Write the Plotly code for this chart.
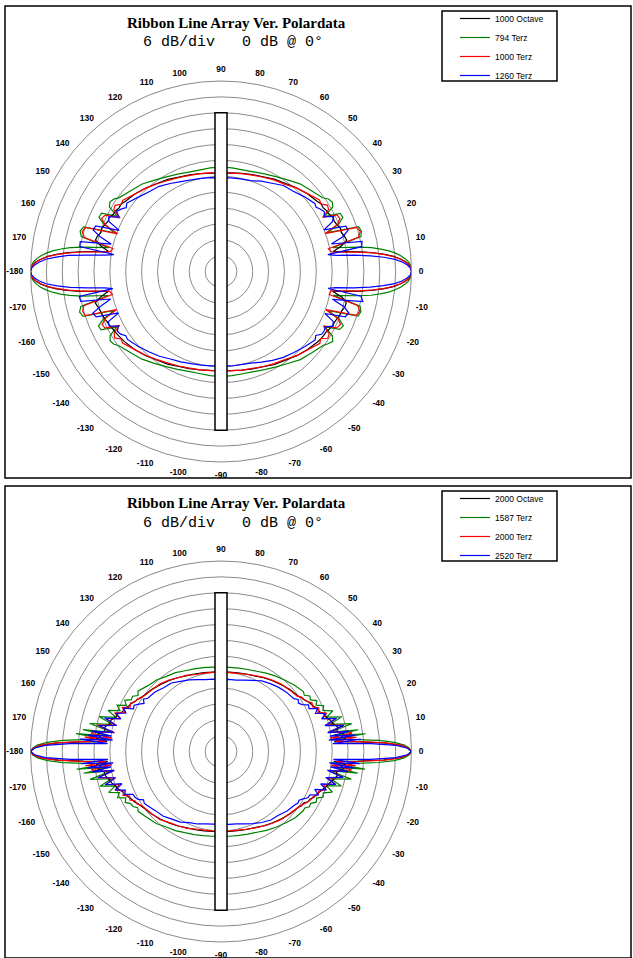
import plotly.graph_objects as go

W, H = 633, 958

# ---------------- data ----------------
# angles (deg) for the upper half; lower half uses the negative angles
THETA = [0, 1, 2, 3, 4, 5, 6, 7, 8, 9, 10,
         12, 14, 16, 18, 20, 22, 24, 26, 28, 30, 32, 34, 36,
         42, 48, 54, 60, 66, 72, 78, 84, 90,
         96, 102, 108, 114, 120, 126, 132, 138,
         144, 146, 148, 150, 152, 154, 156, 158, 160, 162, 164, 166, 168,
         170, 171, 172, 173, 174, 175, 176, 177, 178, 179, 180]

ANGLE_TICKS = list(range(0, 360, 10))
ANGLE_TEXT = [str(a) if a < 180 else str(a - 360) for a in ANGLE_TICKS]

TITLE = "Ribbon Line Array Ver. Polardata"
SUBTITLE = "6 dB/div   0 dB @ 0°"

# ---- panel 1 (1000 Hz) ----
p1_names = ["1000 Octave", "794 Terz", "1000 Terz", "1260 Terz"]

p1_oct_up = [0, -0.2, -0.8, -2.1, -4.0, -6.5, -9.8, -13.8, -18.5, -24.0, -29.0,
             -25.5, -23.0, -23.5, -24.2, -24.0, -24.8, -25.2, -24.9, -25.8, -26.0, -26.5, -26.3, -27.0,
             -28.1, -29.4, -30.8, -31.7, -32.8, -33.5, -34.1, -34.5, -34.8,
             -34.6, -34.2, -33.6, -32.9, -31.8, -30.9, -29.5, -28.2,
             -27.1, -26.4, -26.6, -26.1, -25.9, -25.0, -25.3, -24.7, -24.1, -24.3, -23.4, -23.1, -25.6,
             -29.0, -24.0, -18.4, -13.6, -9.6, -6.3, -3.9, -2.0, -0.8, -0.2, 0]
p1_oct_dn = [0, -0.2, -0.8, -2.1, -4.1, -6.6, -9.9, -14.0, -18.7, -24.2, -29.2,
             -25.2, -23.2, -23.3, -24.0, -24.2, -24.6, -25.0, -25.1, -25.6, -26.2, -26.3, -26.5, -26.8,
             -27.9, -29.2, -30.6, -31.5, -32.6, -33.3, -33.9, -34.3, -34.5,
             -34.4, -34.0, -33.4, -32.7, -31.6, -30.7, -29.3, -28.0,
             -26.9, -26.6, -26.3, -26.0, -25.7, -25.2, -25.0, -24.5, -24.3, -24.0, -23.6, -23.0, -25.4,
             -28.8, -23.8, -18.2, -13.4, -9.4, -6.2, -3.8, -2.0, -0.8, -0.2, 0]

p1_lo_up = [0, -0.1, -0.4, -1.1, -2.3, -3.8, -5.7, -8.0, -11.0, -14.4, -18.9,
            -28.8, -17.5, -16.8, -17.3, -29.0, -24.0, -21.6, -21.9, -27.8, -23.2, -22.4, -23.0, -24.6,
            -26.2, -27.4, -29.2, -30.6, -31.6, -32.4, -32.7, -32.6, -32.5,
            -32.6, -32.8, -32.5, -31.7, -30.7, -29.3, -27.5, -26.3,
            -24.5, -23.1, -22.5, -23.3, -27.6, -21.8, -21.5, -24.2, -29.2, -17.4, -16.6, -17.6, -28.6,
            -18.8, -14.3, -10.9, -7.9, -5.6, -3.7, -2.2, -1.1, -0.4, -0.1, 0]
p1_lo_dn = [0, -0.1, -0.4, -1.1, -2.3, -3.9, -5.8, -8.2, -11.2, -14.6, -19.2,
            -28.6, -17.8, -17.0, -17.5, -28.8, -23.8, -21.4, -22.1, -27.5, -23.4, -22.2, -23.2, -24.4,
            -26.0, -27.2, -29.0, -30.4, -31.4, -32.2, -32.5, -32.4, -32.3,
            -32.4, -32.6, -32.3, -31.5, -30.5, -29.1, -27.4, -26.1,
            -24.3, -23.0, -22.6, -23.6, -27.4, -21.6, -21.3, -24.0, -29.0, -17.2, -16.4, -17.4, -28.4,
            -18.6, -14.1, -10.7, -7.8, -5.5, -3.6, -2.2, -1.1, -0.4, -0.1, 0]

p1_mid_up = [0, -0.2, -0.9, -2.3, -4.2, -6.8, -10.2, -14.4, -19.3, -25.0, -29.6,
             -30.5, -18.5, -17.2, -18.0, -30.2, -24.5, -22.8, -23.2, -28.5, -25.0, -24.6, -26.4, -26.0,
             -28.0, -29.5, -31.2, -32.0, -33.0, -33.7, -34.2, -34.6, -34.7,
             -34.5, -34.2, -33.8, -33.1, -32.2, -31.0, -29.6, -28.2,
             -26.2, -26.6, -24.8, -25.2, -28.8, -23.4, -22.6, -24.8, -30.4, -18.2, -17.4, -18.8, -30.2,
             -29.4, -24.8, -19.0, -14.2, -10.0, -6.6, -4.0, -2.2, -0.8, -0.2, 0]
p1_mid_dn = [0, -0.2, -0.9, -2.3, -4.3, -6.9, -10.3, -14.6, -19.5, -25.2, -29.8,
             -30.2, -18.8, -17.4, -18.3, -29.8, -24.2, -22.6, -23.4, -28.2, -24.8, -24.4, -26.6, -25.8,
             -27.8, -29.2, -30.9, -31.8, -32.7, -33.5, -33.9, -34.3, -34.4,
             -34.3, -34.0, -33.6, -32.9, -32.0, -30.8, -29.4, -28.0,
             -26.0, -26.4, -24.6, -25.4, -28.6, -23.2, -22.8, -25.0, -30.0, -18.0, -17.6, -18.6, -30.0,
             -29.2, -24.6, -18.8, -14.0, -9.8, -6.5, -3.9, -2.1, -0.8, -0.2, 0]

p1_hi_up = [0, -0.4, -1.5, -3.4, -6.1, -10.2, -15.2, -21.2, -28.0, -31.1, -18.0,
            -17.5, -29.0, -24.0, -21.5, -21.8, -30.0, -26.0, -24.6, -27.8, -26.9, -27.6, -28.6, -28.2,
            -29.7, -31.2, -31.8, -33.5, -34.6, -35.9, -36.2, -36.4, -36.6,
            -36.3, -36.0, -35.6, -34.8, -33.6, -32.2, -31.4, -30.0,
            -28.0, -28.8, -27.5, -26.5, -28.2, -24.8, -25.6, -30.5, -21.6, -21.2, -24.5, -29.2, -17.6,
            -17.8, -31.0, -27.8, -21.0, -14.0, -9.4, -5.6, -3.3, -1.5, -0.4, 0]
p1_hi_dn = [0, -0.4, -1.6, -3.5, -6.2, -10.4, -15.4, -21.4, -28.2, -31.0, -18.2,
            -17.2, -28.6, -23.6, -21.2, -22.0, -29.6, -25.6, -24.9, -27.4, -27.0, -27.2, -28.8, -28.0,
            -29.5, -30.8, -31.9, -33.2, -34.5, -35.6, -36.0, -36.1, -36.3,
            -36.1, -35.8, -35.4, -34.6, -33.8, -32.4, -31.2, -29.8,
            -28.3, -28.6, -27.3, -26.8, -28.0, -25.0, -25.4, -30.2, -21.8, -21.0, -24.8, -29.0, -17.8,
            -17.6, -30.6, -27.6, -21.2, -14.6, -9.8, -5.8, -3.2, -1.5, -0.4, 0]

# ---- panel 2 (2000 Hz) ----
p2_names = ["2000 Octave", "1587 Terz", "2000 Terz", "2520 Terz"]

p2_oct_up = [0, -1.2, -4.0, -10.4, -20.0, -29.0, -24.5, -26.0, -25.0, -26.5, -27.5,
             -27.0, -28.4, -29.0, -30.2, -30.6, -31.8, -32.2, -33.0, -33.6, -34.2, -35.0, -35.5, -36.2,
             -37.0, -38.0, -38.9, -39.8, -40.7, -41.2, -41.6, -41.8, -41.9,
             -41.8, -41.5, -41.1, -40.6, -39.7, -38.8, -37.9, -36.9,
             -36.0, -35.6, -34.8, -34.3, -33.5, -33.1, -32.0, -31.9, -30.4, -30.3, -28.8, -28.6, -27.2,
             -27.4, -26.2, -25.2, -26.0, -24.4, -28.8, -19.8, -10.2, -3.9, -1.2, 0]
p2_oct_dn = [0, -1.2, -4.1, -10.6, -20.2, -29.2, -24.6, -26.2, -25.2, -26.6, -27.6,
             -27.2, -28.2, -29.2, -30.0, -30.8, -31.6, -32.4, -32.8, -33.8, -34.0, -35.2, -35.3, -36.0,
             -36.8, -37.8, -38.7, -39.6, -40.5, -41.0, -41.4, -41.6, -41.7,
             -41.6, -41.3, -40.9, -40.4, -39.5, -38.6, -37.7, -36.7,
             -35.8, -35.4, -34.9, -34.1, -33.7, -32.9, -32.2, -31.7, -30.6, -30.1, -29.0, -28.4, -27.4,
             -27.2, -26.4, -25.0, -26.2, -24.6, -29.0, -20.0, -10.4, -4.0, -1.2, 0]

p2_lo_up = [0, -0.8, -2.6, -6.4, -12.1, -20.5, -29.6, -17.0, -29.0, -19.5, -30.0,
            -21.5, -29.5, -24.5, -30.0, -27.0, -30.5, -29.5, -32.0, -31.0, -33.0, -32.4, -34.0, -33.5,
            -34.6, -35.8, -36.8, -37.8, -38.8, -39.4, -39.8, -40.0, -40.1,
            -39.9, -39.6, -39.2, -38.6, -37.6, -36.9, -35.6, -34.8,
            -33.2, -34.2, -32.6, -32.8, -30.8, -32.2, -29.0, -30.8, -26.6, -30.2, -24.2, -29.6, -21.2,
            -30.2, -19.2, -29.2, -16.8, -29.4, -20.2, -12.0, -6.3, -2.5, -0.8, 0]
p2_lo_dn = [0, -0.8, -2.7, -6.5, -12.3, -20.7, -29.8, -17.2, -29.2, -19.7, -30.2,
            -21.7, -29.3, -24.7, -30.2, -27.2, -30.3, -29.7, -31.8, -31.2, -32.8, -32.6, -33.8, -33.7,
            -34.4, -35.6, -36.6, -37.6, -38.6, -39.2, -39.6, -39.8, -39.9,
            -39.8, -39.5, -39.0, -38.4, -37.5, -36.7, -35.4, -34.6,
            -33.4, -34.0, -32.8, -32.6, -31.0, -32.0, -29.2, -30.6, -26.8, -30.0, -24.4, -29.4, -21.4,
            -30.0, -19.4, -29.0, -17.0, -29.6, -20.4, -12.2, -6.4, -2.6, -0.8, 0]

p2_mid_up = [0, -1.1, -3.8, -9.8, -18.9, -28.4, -20.5, -30.5, -22.0, -23.5, -31.0,
             -24.5, -30.5, -27.0, -31.5, -29.5, -32.5, -31.5, -33.5, -33.0, -34.2, -35.0, -35.2, -36.4,
             -37.2, -37.8, -38.8, -39.6, -40.6, -41.3, -41.8, -42.0, -42.1,
             -41.9, -41.7, -41.4, -40.4, -39.8, -38.6, -37.6, -37.0,
             -36.2, -35.4, -34.8, -34.4, -33.2, -33.8, -31.2, -32.8, -29.2, -31.8, -26.8, -30.6, -24.2,
             -31.2, -23.2, -22.4, -30.6, -20.2, -28.2, -18.6, -9.6, -3.7, -1.1, 0]
p2_mid_dn = [0, -1.1, -3.9, -9.9, -19.1, -28.6, -20.8, -30.2, -22.2, -23.8, -30.8,
             -24.8, -30.2, -27.2, -31.2, -29.8, -32.2, -31.8, -33.2, -33.4, -34.0, -34.8, -35.6, -36.0,
             -37.0, -37.6, -38.6, -39.5, -40.4, -41.1, -41.6, -41.8, -41.9,
             -41.8, -41.6, -41.2, -40.2, -39.6, -38.8, -37.4, -36.8,
             -36.0, -35.6, -34.6, -34.6, -33.0, -33.6, -31.4, -32.6, -29.4, -31.6, -27.0, -30.4, -24.4,
             -31.0, -23.4, -22.6, -30.4, -20.4, -28.4, -18.8, -9.7, -3.8, -1.1, 0]

p2_hi_up = [0, -1.5, -5.7, -15.2, -29.6, -19.0, -31.0, -21.0, -30.5, -23.0, -31.0,
            -24.5, -31.5, -26.5, -32.0, -30.0, -33.5, -32.0, -35.0, -34.5, -36.6, -37.5, -36.8, -38.0,
            -38.6, -39.4, -40.3, -41.2, -42.6, -43.6, -44.4, -44.6, -44.8,
            -44.5, -44.2, -43.4, -42.4, -41.4, -40.0, -39.6, -38.4,
            -37.8, -36.6, -37.7, -36.2, -34.8, -35.2, -31.8, -33.2, -29.8, -32.2, -26.2, -31.4, -24.8,
            -30.8, -22.6, -30.2, -21.2, -30.8, -18.6, -29.0, -14.8, -5.5, -1.4, 0]
p2_hi_dn = [0, -1.6, -5.9, -15.4, -29.4, -19.4, -30.8, -21.4, -30.2, -23.4, -31.2,
            -24.8, -31.2, -26.8, -32.4, -29.6, -33.8, -31.6, -34.6, -34.8, -36.2, -37.2, -37.0, -37.6,
            -38.4, -39.6, -40.0, -41.0, -42.2, -43.2, -44.0, -44.3, -44.5,
            -44.4, -44.0, -43.2, -42.6, -41.2, -40.4, -39.2, -38.6,
            -37.4, -37.0, -37.5, -35.8, -35.2, -35.0, -32.2, -33.0, -29.6, -32.6, -26.4, -31.0, -24.6,
            -31.0, -22.8, -30.0, -21.0, -31.0, -18.8, -29.2, -15.0, -5.6, -1.5, 0]

# ---------------- layout helpers ----------------
COLORS = ["#000000", "#008000", "#ff0000", "#0000ff"]   # octave, low terz, mid terz, high terz
DRAW_ORDER = [1, 0, 2, 3]
R_MIN, R_MAX, DB_DIV = -72, 0, 6
BAR_DB = -12           # ribbon drawing reaches the -12 dB ring
CX, R_PX = 221, 190.5
PANEL_CY = [271.5, 751.5]
PANEL_TOP = [6, 486]


def px(x):
    return x / W


def py(y):
    return 1 - y / H


def full(up, dn):
    theta = [-a for a in THETA[::-1]] + THETA[1:]
    r = dn[::-1] + up[1:]
    return theta, r


panels = [
    dict(names=p1_names, series=[(p1_oct_up, p1_oct_dn), (p1_lo_up, p1_lo_dn),
                                 (p1_mid_up, p1_mid_dn), (p1_hi_up, p1_hi_dn)]),
    dict(names=p2_names, series=[(p2_oct_up, p2_oct_dn), (p2_lo_up, p2_lo_dn),
                                 (p2_mid_up, p2_mid_dn), (p2_hi_up, p2_hi_dn)]),
]

fig = go.Figure()
layout = dict(width=W, height=H, margin=dict(l=0, r=0, t=0, b=0), autosize=False,
              paper_bgcolor="white", plot_bgcolor="white", showlegend=True)
shapes, annotations = [], []

for k, p in enumerate(panels):
    polar_id = "polar" if k == 0 else "polar2"
    legend_id = "legend" if k == 0 else "legend2"
    cy = PANEL_CY[k]
    top = PANEL_TOP[k]
    for i in DRAW_ORDER:
        up, dn = p["series"][i]
        th, rr = full(up, dn)
        fig.add_trace(go.Scatterpolar(
            r=rr, theta=th, mode="lines", name=p["names"][i],
            line=dict(color=COLORS[i], width=1.2),
            subplot=polar_id, legend=legend_id, legendrank=i + 1,
        ))
    layout[polar_id] = dict(
        domain=dict(x=[px(CX - R_PX), px(CX + R_PX)], y=[py(cy + R_PX), py(cy - R_PX)]),
        bgcolor="white",
        radialaxis=dict(range=[R_MIN, R_MAX], tickmode="linear", tick0=0, dtick=DB_DIV,
                        showticklabels=False, ticks="", showline=False,
                        gridcolor="#8a8a8a", gridwidth=1),
        angularaxis=dict(rotation=0, direction="counterclockwise", tickmode="array",
                         tickvals=ANGLE_TICKS, ticktext=ANGLE_TEXT, showgrid=False,
                         ticks="outside", ticklen=5, tickcolor="rgba(0,0,0,0)",
                         showline=True, linecolor="#8a8a8a", linewidth=1,
                         tickfont=dict(family="Liberation Sans", size=8.5, color="black",
                                       weight="bold")),
    )
    layout[legend_id] = dict(
        x=px(455), y=py(top - 2), xanchor="left", yanchor="top",
        bgcolor="rgba(0,0,0,0)", borderwidth=0, itemwidth=30,
        font=dict(family="Liberation Sans", size=8.5, color="black"),
        tracegroupgap=0,
    )
    # panel frame
    shapes.append(dict(type="rect", xref="paper", yref="paper",
                       x0=px(5), x1=px(631), y0=py(top + 472), y1=py(top),
                       line=dict(color="black", width=1.5), fillcolor="rgba(0,0,0,0)",
                       layer="below"))
    # legend box
    shapes.append(dict(type="rect", xref="paper", yref="paper",
                       x0=px(442), x1=px(557), y0=py(top + 75), y1=py(top + 5),
                       line=dict(color="black", width=1.5), fillcolor="rgba(0,0,0,0)",
                       layer="above"))
    # ribbon drawing in the centre
    half_len = R_PX * (BAR_DB - R_MIN) / (R_MAX - R_MIN)
    shapes.append(dict(type="rect", xref="paper", yref="paper",
                       x0=px(CX - 6), x1=px(CX + 6), y0=py(cy + half_len), y1=py(cy - half_len),
                       line=dict(color="black", width=1.5), fillcolor="white", layer="above"))
    annotations.append(dict(text="<b>" + TITLE + "</b>", x=px(236), y=py(top + 17),
                            xref="paper", yref="paper", xanchor="center", yanchor="middle",
                            showarrow=False,
                            font=dict(family="Liberation Serif", size=15, color="black")))
    annotations.append(dict(text=SUBTITLE, x=px(233), y=py(top + 37),
                            xref="paper", yref="paper", xanchor="center", yanchor="middle",
                            showarrow=False,
                            font=dict(family="Liberation Mono", size=15, color="black")))

layout["shapes"] = shapes
layout["annotations"] = annotations
fig.update_layout(**layout)
fig.write_html("out.html", config={"displayModeBar": False},
               post_script="document.body.style.margin='0';document.body.style.overflow='hidden';")
